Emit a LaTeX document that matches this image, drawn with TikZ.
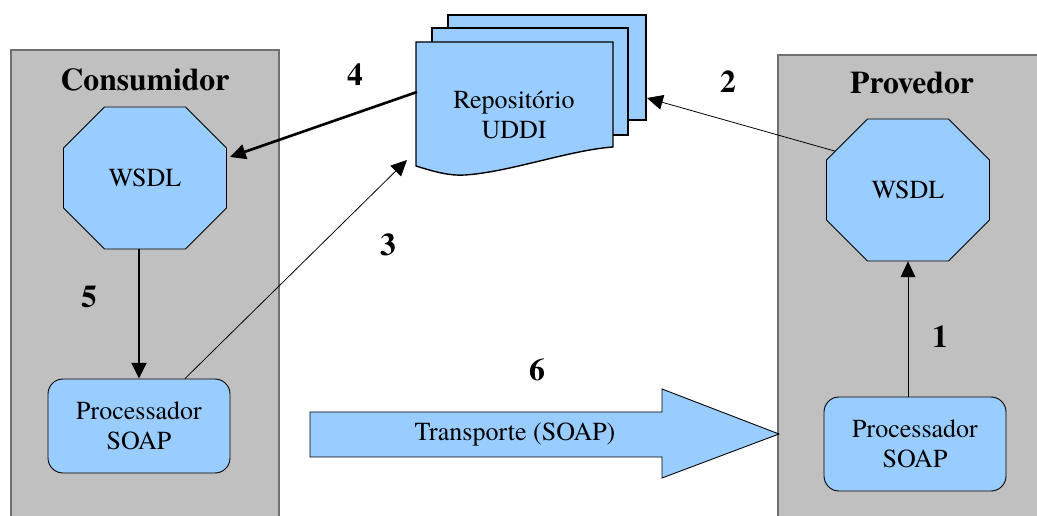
\documentclass[tikz,border=0pt]{standalone}
\usepackage{fontspec}
\setmainfont{texgyretermes}[Extension=.otf,UprightFont=*-regular,BoldFont=*-bold,ItalicFont=*-italic,BoldItalicFont=*-bolditalic]
\usetikzlibrary{shapes.misc,arrows.meta,calc}
\definecolor{boxblue}{HTML}{99CCFF}
\definecolor{panelgray}{HTML}{C0C0C0}
\definecolor{paneledge}{HTML}{707070}
\begin{document}
\begin{tikzpicture}[x=0.02cm,y=-0.02cm,
  panel/.style={fill=panelgray,draw=paneledge,line width=0.6pt},
  title/.style={font=\fontsize{18}{20}\selectfont\bfseries},
  num/.style={font=\fontsize{18}{20}\selectfont\bfseries},
  txt/.style={font=\fontsize{14.8}{17}\selectfont,align=center},
  wsdl/.style={chamfered rectangle,fill=boxblue,draw=black,line width=0.5pt,
    inner sep=0pt,minimum width=3.26cm,minimum height=2.84cm,
    chamfered rectangle xsep=0.66cm,chamfered rectangle ysep=0.64cm,txt},
  proc/.style={rectangle,rounded corners=0.3cm,fill=boxblue,draw=black,line width=0.5pt,
    inner sep=0pt,minimum width=3.64cm,minimum height=1.88cm,txt},
  page/.style={fill=boxblue,draw=black,line width=0.8pt},
  thickarrow/.style={line width=1.5pt,-{Triangle[length=9pt,width=8.5pt]}},
  thinarrow/.style={line width=0.45pt,-{Triangle[length=9pt,width=8.5pt]}},
]
\useasboundingbox (0,0) rectangle (1037,516);
% panels
\draw[panel] (11,50) rectangle (279,530);
\draw[panel] (778,55) rectangle (1045,530);
\node[title] (tC) at (145,80) {Consumidor};
\node[title] (tP) at (912,83) {Provedor};
% repository pages
\draw[page] (448,120) -- (448,15) -- (646,15) -- (646,120) -- cycle;
\draw[page] (432,135) -- (432,28) -- (628,28) -- (628,135) -- cycle;
\draw[page] (416,166) -- (416,42) -- (613,42) -- (613,147)
  .. controls (570,150) and (510,172) .. (465,175)
  .. controls (450,176) and (435,172) .. (416,166) -- cycle;
\node[txt] (repo) at (514,115) {Repositório\\UDDI};
\coordinate (p4) at (417,92);
\coordinate (p2) at (647,98);
\coordinate (p3) at (407,160);
% nodes
\node[wsdl] (wsdlC) at (145,178) {WSDL};
\node[wsdl] (wsdlP) at (908,190) {WSDL};
\node[proc] (procC) at (139,426) {Processador\\SOAP};
\node[proc] (procP) at (915,444) {Processador\\SOAP};
% block arrow
\draw[fill=boxblue,draw=black,line width=0.5pt]
  (310,412) -- (662,412) -- (662,389) -- (779,434) -- (662,478) -- (662,457) -- (310,457) -- cycle;
\node[txt] (tr) at (515,435) {Transporte (SOAP)};
% connectors
\draw[thickarrow] (p4) -- ($(wsdlC.east)+(3,-21)$);
\draw[thinarrow] (wsdlP.152) -- (p2);
\draw[thinarrow] ($(procC.north)+(46,0)$) -- (p3);
\draw[thickarrow] (procC.north |- wsdlC.south) -- (procC.north);
\draw[thinarrow] (wsdlP.south |- procP.north) -- (wsdlP.south);
% numbers
\node[num] (n1) at (940,337) {1};
\node[num] (n2) at (728,82) {2};
\node[num] (n3) at (388,245) {3};
\node[num] (n4) at (355,75) {4};
\node[num] (n5) at (89,297) {5};
\node[num] (n6) at (537,370) {6};
\end{tikzpicture}
\end{document}
